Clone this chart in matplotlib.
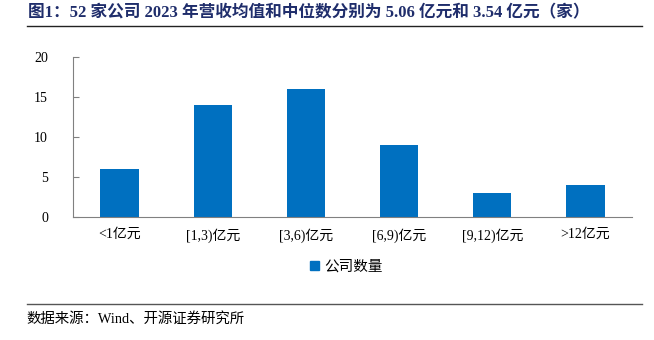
import matplotlib.pyplot as plt
from matplotlib.lines import Line2D
from matplotlib.patches import Patch

plt.rcParams['font.family'] = ['Liberation Serif', 'Noto Sans CJK SC', 'DejaVu Sans']

categories = ['<1亿元', '[1,3)亿元', '[3,6)亿元', '[6,9)亿元', '[9,12)亿元', '>12亿元']
counts = [6, 14, 16, 9, 3, 4]
yticks = [0, 5, 10, 15, 20]

title = '图1：52 家公司 2023 年营收均值和中位数分别为 5.06 亿元和 3.54 亿元（家）'
source = '数据来源：Wind、开源证券研究所'
bar_color = '#0070C0'
navy = '#1F2D6B'

fig = plt.figure(figsize=(6.54, 3.40), dpi=100)
ax = fig.add_axes([0.1116, 0.3618, 0.855, 0.4706])

x = range(len(categories))
ax.bar(x, counts, width=0.41, color=bar_color, label='公司数量')
ax.set_xlim(-0.5, len(categories) - 0.5)
ax.set_ylim(0, 20)
ax.set_yticks(yticks)
ax.set_xticks(list(x))
ax.set_xticklabels(categories)

for side in ('top', 'right'):
    ax.spines[side].set_visible(False)
ax.spines['left'].set_color('#808080')
ax.spines['bottom'].set_color('#808080')
ax.tick_params(axis='y', direction='in', length=4, color='#808080', labelsize=10, pad=18)
ax.tick_params(axis='x', length=0, labelsize=10, pad=8)

ax.legend(handles=[Patch(color=bar_color, label='公司数量')], loc='center',
          bbox_to_anchor=(0.53, 0.215), bbox_transform=fig.transFigure,
          frameon=False, fontsize=10.5, handlelength=0.6, handleheight=0.6,
          handletextpad=0.4)

fig.text(0.043, 0.962, title, fontsize=12.0, fontweight='bold', color=navy,
         va='center', ha='left')
fig.add_artist(Line2D([0.041, 0.982], [0.924, 0.924], color='#222222', lw=1.0))
fig.add_artist(Line2D([0.041, 0.982], [0.106, 0.106], color='#555555', lw=1.0))
fig.text(0.041, 0.062, source, fontsize=10.4, va='center', ha='left')

fig.savefig('out.png', dpi=100)
